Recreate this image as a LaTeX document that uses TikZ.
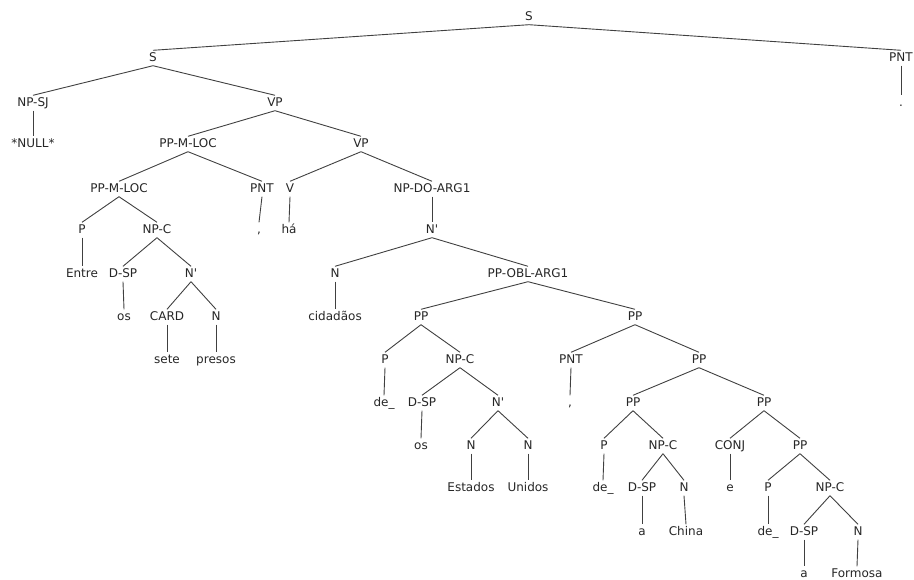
\documentclass[tikz,border=0pt]{standalone}
\usepackage{fontspec}
\setmainfont{DejaVu Sans}
\usepackage{tikz}

\begin{document}
\begin{tikzpicture}[x=1pt,y=-1pt,
    lbl/.style={inner sep=2pt,text height=9pt,text depth=2pt,
      text=black!85,font=\fontsize{12}{14}\selectfont},
    br/.style={black!75,line width=0.9pt}]
    \useasboundingbox (0,0) rectangle (914,580) ;
    \def\nb{N\textquotesingle}

    % levels of the tree, top to bottom
    \node[lbl] (s) at (529,17) {S} ;
    \node[lbl] (s1) at (153,58) {S} ;
    \node[lbl] (pnt1) at (901,58) {PNT} ;
    \node[lbl] (npsj) at (33,103) {NP-SJ} ;
    \node[lbl] (vp1) at (275,103) {VP} ;
    \node[lbl] (dot1) at (901,103) {.} ;
    \node[lbl] (null) at (33,144) {*NULL*} ;
    \node[lbl] (ppml1) at (188,144) {PP-M-LOC} ;
    \node[lbl] (vp2) at (361,144) {VP} ;
    \node[lbl] (ppml2) at (119,189) {PP-M-LOC} ;
    \node[lbl] (pnt2) at (262,189) {PNT} ;
    \node[lbl] (v) at (290,189) {V} ;
    \node[lbl] (npdo) at (432,189) {NP-DO-ARG1} ;
    \node[lbl] (p1) at (82,230) {P} ;
    \node[lbl] (npc1) at (157,230) {NP-C} ;
    \node[lbl] (comma1) at (259,230) {,} ;
    \node[lbl] (ha) at (289,230) {há} ;
    \node[lbl] (nbar1) at (432,230) {\nb} ;
    \node[lbl] (entre) at (82,274) {Entre} ;
    \node[lbl] (dsp1) at (123,274) {D-SP} ;
    \node[lbl] (nbar2) at (191,274) {\nb} ;
    \node[lbl] (n1) at (335,274) {N} ;
    \node[lbl] (ppobl) at (528,274) {PP-OBL-ARG1} ;
    \node[lbl] (os1) at (124,317) {os} ;
    \node[lbl] (card) at (167,317) {CARD} ;
    \node[lbl] (n2) at (216,317) {N} ;
    \node[lbl] (cidadaos) at (335,317) {cidadãos} ;
    \node[lbl] (pp1) at (421,317) {PP} ;
    \node[lbl] (pp2) at (635,317) {PP} ;
    \node[lbl] (sete) at (167,360) {sete} ;
    \node[lbl] (presos) at (216,360) {presos} ;
    \node[lbl] (p2) at (385,360) {P} ;
    \node[lbl] (npc2) at (460,360) {NP-C} ;
    \node[lbl] (pnt3) at (571,360) {PNT} ;
    \node[lbl] (pp3) at (699,360) {PP} ;
    \node[lbl] (de1) at (384,403) {de\_} ;
    \node[lbl] (dsp2) at (422,403) {D-SP} ;
    \node[lbl] (nbar3) at (498,403) {\nb} ;
    \node[lbl] (comma2) at (570,403) {,} ;
    \node[lbl] (pp4) at (633,403) {PP} ;
    \node[lbl] (pp5) at (764,403) {PP} ;
    \node[lbl] (os2) at (421,446) {os} ;
    \node[lbl] (n3) at (471,446) {N} ;
    \node[lbl] (n4) at (528,446) {N} ;
    \node[lbl] (p3) at (604,446) {P} ;
    \node[lbl] (npc3) at (663,446) {NP-C} ;
    \node[lbl] (conj) at (730,446) {CONJ} ;
    \node[lbl] (pp6) at (800,446) {PP} ;
    \node[lbl] (estados) at (471,488) {Estados} ;
    \node[lbl] (unidos) at (528,488) {Unidos} ;
    \node[lbl] (de2) at (603,488) {de\_} ;
    \node[lbl] (dsp3) at (642,488) {D-SP} ;
    \node[lbl] (n5) at (684,488) {N} ;
    \node[lbl] (e) at (730,488) {e} ;
    \node[lbl] (p4) at (768,488) {P} ;
    \node[lbl] (npc4) at (830,488) {NP-C} ;
    \node[lbl] (a1) at (642,532) {a} ;
    \node[lbl] (china) at (686,532) {China} ;
    \node[lbl] (de3) at (768,532) {de\_} ;
    \node[lbl] (dsp4) at (804,532) {D-SP} ;
    \node[lbl] (n6) at (858,532) {N} ;
    \node[lbl] (a2) at (804,574) {a} ;
    \node[lbl] (formosa) at (857,574) {Formosa} ;

    % branches
    \draw[br] (s.south) -- (s1.north) (s.south) -- (pnt1.north) ;
    \draw[br] (pnt1.south) -- (dot1.north) ;
    \draw[br] (s1.south) -- (npsj.north) (s1.south) -- (vp1.north) ;
    \draw[br] (npsj.south) -- (null.north) ;
    \draw[br] (vp1.south) -- (ppml1.north) (vp1.south) -- (vp2.north) ;
    \draw[br] (ppml1.south) -- (ppml2.north) (ppml1.south) -- (pnt2.north) ;
    \draw[br] (vp2.south) -- (v.north) (vp2.south) -- (npdo.north) ;
    \draw[br] (ppml2.south) -- (p1.north) (ppml2.south) -- (npc1.north) ;
    \draw[br] (pnt2.south) -- (comma1.north) ;
    \draw[br] (v.south) -- (ha.north) ;
    \draw[br] (npdo.south) -- (nbar1.north) ;
    \draw[br] (p1.south) -- (entre.north) ;
    \draw[br] (npc1.south) -- (dsp1.north) (npc1.south) -- (nbar2.north) ;
    \draw[br] (nbar1.south) -- (n1.north) (nbar1.south) -- (ppobl.north) ;
    \draw[br] (dsp1.south) -- (os1.north) ;
    \draw[br] (nbar2.south) -- (card.north) (nbar2.south) -- (n2.north) ;
    \draw[br] (n1.south) -- (cidadaos.north) ;
    \draw[br] (ppobl.south) -- (pp1.north) (ppobl.south) -- (pp2.north) ;
    \draw[br] (card.south) -- (sete.north) ;
    \draw[br] (n2.south) -- (presos.north) ;
    \draw[br] (pp1.south) -- (p2.north) (pp1.south) -- (npc2.north) ;
    \draw[br] (pp2.south) -- (pnt3.north) (pp2.south) -- (pp3.north) ;
    \draw[br] (p2.south) -- (de1.north) ;
    \draw[br] (npc2.south) -- (dsp2.north) (npc2.south) -- (nbar3.north) ;
    \draw[br] (pnt3.south) -- (comma2.north) ;
    \draw[br] (pp3.south) -- (pp4.north) (pp3.south) -- (pp5.north) ;
    \draw[br] (dsp2.south) -- (os2.north) ;
    \draw[br] (nbar3.south) -- (n3.north) (nbar3.south) -- (n4.north) ;
    \draw[br] (pp4.south) -- (p3.north) (pp4.south) -- (npc3.north) ;
    \draw[br] (pp5.south) -- (conj.north) (pp5.south) -- (pp6.north) ;
    \draw[br] (n3.south) -- (estados.north) ;
    \draw[br] (n4.south) -- (unidos.north) ;
    \draw[br] (p3.south) -- (de2.north) ;
    \draw[br] (npc3.south) -- (dsp3.north) (npc3.south) -- (n5.north) ;
    \draw[br] (conj.south) -- (e.north) ;
    \draw[br] (pp6.south) -- (p4.north) (pp6.south) -- (npc4.north) ;
    \draw[br] (dsp3.south) -- (a1.north) ;
    \draw[br] (n5.south) -- (china.north) ;
    \draw[br] (p4.south) -- (de3.north) ;
    \draw[br] (npc4.south) -- (dsp4.north) (npc4.south) -- (n6.north) ;
    \draw[br] (dsp4.south) -- (a2.north) ;
    \draw[br] (n6.south) -- (formosa.north) ;
\end{tikzpicture}
\end{document}
